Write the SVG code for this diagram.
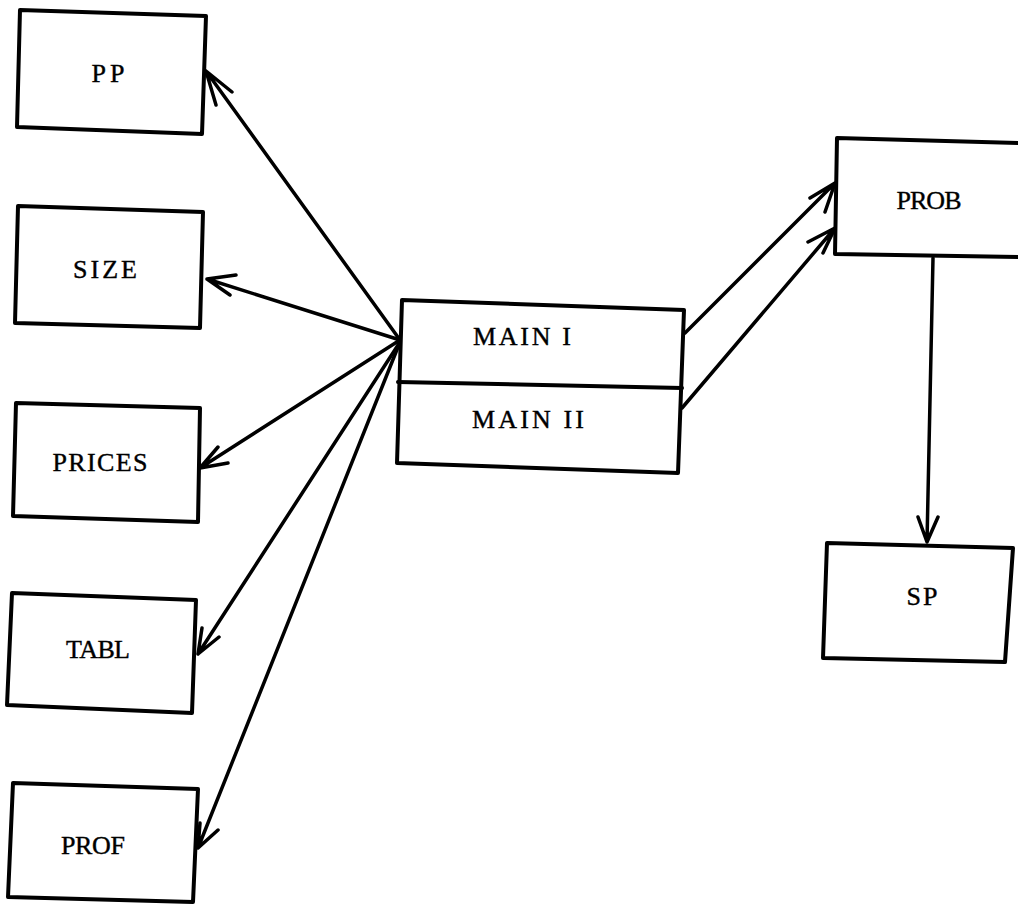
<svg xmlns="http://www.w3.org/2000/svg" width="1018" height="920" viewBox="0 0 1018 920">
<style>
.box{fill:#fff;stroke:#000;stroke-width:4;stroke-linejoin:round}
.lbl{font-family:"Liberation Serif","DejaVu Serif",serif;font-size:26px;fill:#000;stroke:#000;stroke-width:0.4;text-anchor:middle}
.ln{fill:none;stroke:#000;stroke-width:3.5;stroke-linecap:round;stroke-linejoin:round}
</style>
<rect width="1018" height="920" fill="#fff"/>
<g id="connectors">
<path class="ln" d="M400,340 L206,71 M232,92 L206,71 L216,105"/>
<path class="ln" d="M400,340 L207,279 M236,275 L207,279 L230,295"/>
<path class="ln" d="M400,340 L200,468 M218,447 L200,468 L228,463"/>
<path class="ln" d="M400,342 L198,654 M202,628 L198,654 L219,637"/>
<path class="ln" d="M400,342 L198,848 M200,823 L198,848 L218,830"/>
<path class="ln" d="M685,333 L835,183 M810,198 L835,183 L825,212"/>
<path class="ln" d="M682,408 L835,228 M808,242 L835,228 L823,253"/>
<path class="ln" d="M933,258 L927,542 M918,517 L927,542 L938,517"/>
</g>
<g id="PP">
<polygon class="box" points="20,10 206,16 202,134 17,127"/>
<text class="lbl" x="108" y="82" textLength="33" lengthAdjust="spacing">PP</text>
</g>
<g id="SIZE">
<polygon class="box" points="18,206 203,212 200,328 15,323"/>
<text class="lbl" x="105" y="278" textLength="64" lengthAdjust="spacing">SIZE</text>
</g>
<g id="PRICES">
<polygon class="box" points="16,403 200,408 198,522 13,516"/>
<text class="lbl" x="100" y="471" textLength="95" lengthAdjust="spacing">PRICES</text>
</g>
<g id="TABL">
<polygon class="box" points="12,593 196,600 192,713 7,705"/>
<text class="lbl" x="98" y="658" textLength="64" lengthAdjust="spacing">TABL</text>
</g>
<g id="PROF">
<polygon class="box" points="13,783 198,789 193,902 8,897"/>
<text class="lbl" x="93" y="854" textLength="64" lengthAdjust="spacing">PROF</text>
</g>
<g id="MAIN">
<polygon class="box" points="402,300 684,310 678,473 397,463"/>
<path class="ln" style="stroke-width:4" d="M398,382 L682,388"/>
<text class="lbl" x="522" y="345" textLength="98" lengthAdjust="spacing">MAIN I</text>
<text class="lbl" x="528" y="428" textLength="112" lengthAdjust="spacing">MAIN II</text>
</g>
<g id="PROB">
<polygon class="box" points="837,138 1022,143 1022,257 835,254"/>
<text class="lbl" x="929" y="209" textLength="65" lengthAdjust="spacing">PROB</text>
</g>
<g id="SP">
<polygon class="box" points="827,543 1013,548 1005,662 823,658"/>
<text class="lbl" x="922" y="605" textLength="31" lengthAdjust="spacing">SP</text>
</g>
</svg>
